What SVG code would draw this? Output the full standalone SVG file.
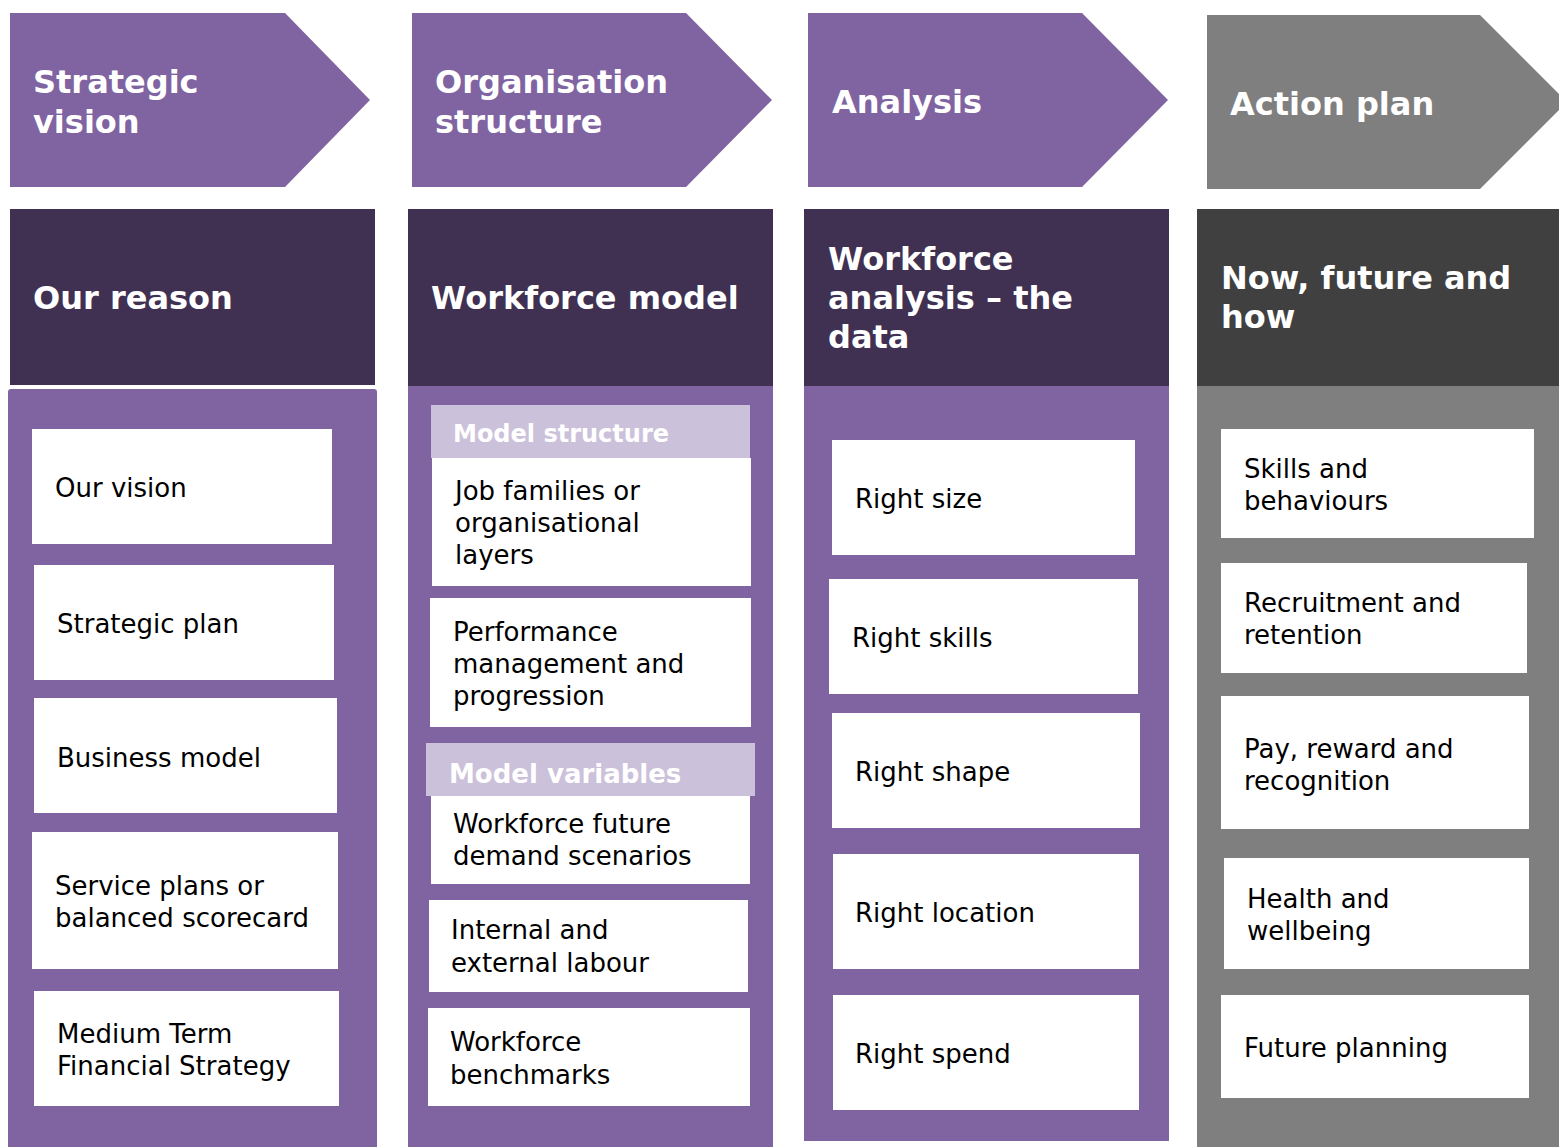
<svg xmlns="http://www.w3.org/2000/svg" width="1559" height="1147" viewBox="0 0 1559 1147">
<style>
text{font-family:"DejaVu Sans","Verdana",sans-serif;}
.h{font-size:32px;font-weight:bold;fill:#fff;}
.t{font-size:26px;fill:#000;}
.sub{font-weight:bold;fill:#fff;}
.pur{fill:#8064a2;}
.dk{fill:#403152;}
.gr{fill:#7f7f7f;}
.dg{fill:#404040;}
.wb{fill:#fff;}
.lv{fill:#ccc1da;}
</style>
<rect width="1559" height="1147" fill="#fff"/>

<g id="step-strategic-vision">
<polygon class="pur" points="10,13 285,13 370,100 285,187 10,187"/>
<text class="h" x="33" y="93">Strategic</text>
<text class="h" x="33" y="133">vision</text>
</g>
<g id="step-organisation-structure">
<polygon class="pur" points="412,13 686,13 772,100 686,187 412,187"/>
<text class="h" x="435" y="93">Organisation</text>
<text class="h" x="435" y="133">structure</text>
</g>
<g id="step-analysis">
<polygon class="pur" points="808,13 1082,13 1168,100 1082,187 808,187"/>
<text class="h" x="832" y="113">Analysis</text>
</g>
<g id="step-action-plan">
<polygon class="gr" points="1207,15 1480,15 1567,102 1480,189 1207,189"/>
<text class="h" x="1230" y="115">Action plan</text>
</g>

<g id="col1-header">
<rect class="dk" x="10" y="209" width="365" height="176"/>
<text class="h" x="33" y="309">Our reason</text>
</g>
<g id="col2-header">
<rect class="dk" x="408" y="209" width="365" height="177"/>
<text class="h" x="431" y="309">Workforce model</text>
</g>
<g id="col3-header">
<rect class="dk" x="804" y="209" width="365" height="177"/>
<text class="h" x="828" y="270">Workforce</text>
<text class="h" x="828" y="309">analysis – the</text>
<text class="h" x="828" y="348">data</text>
</g>
<g id="col4-header">
<rect class="dg" x="1197" y="209" width="362" height="177"/>
<text class="h" x="1221" y="289">Now, future and</text>
<text class="h" x="1221" y="328">how</text>
</g>

<g id="col1-body"><rect class="pur" x="8" y="389" width="369" height="770" rx="3"/></g>
<g id="col2-body"><rect class="pur" x="408" y="386" width="365" height="761"/></g>
<g id="col3-body"><rect class="pur" x="804" y="386" width="365" height="755"/></g>
<g id="col4-body"><rect class="gr" x="1197" y="386" width="362" height="761"/></g>

<g id="our-vision"><rect class="wb" x="32" y="429" width="300" height="115"/><text class="t" x="55" y="497">Our vision</text></g>
<g id="strategic-plan"><rect class="wb" x="34" y="565" width="300" height="115"/><text class="t" x="57" y="633">Strategic plan</text></g>
<g id="business-model"><rect class="wb" x="34" y="698" width="303" height="115"/><text class="t" x="57" y="767">Business model</text></g>
<g id="service-plans"><rect class="wb" x="32" y="832" width="306" height="137"/><text class="t" x="55" y="895">Service plans or</text><text class="t" x="55" y="927">balanced scorecard</text></g>
<g id="mtfs"><rect class="wb" x="34" y="991" width="305" height="115"/><text class="t" x="57" y="1043">Medium Term</text><text class="t" x="57" y="1075">Financial Strategy</text></g>

<g id="model-structure"><rect class="lv" x="431" y="405" width="319" height="53"/><text class="sub" font-size="24" x="453" y="442">Model structure</text></g>
<g id="job-families"><rect class="wb" x="432" y="458" width="319" height="128"/><text class="t" x="455" y="500">Job families or</text><text class="t" x="455" y="532">organisational</text><text class="t" x="455" y="564">layers</text></g>
<g id="performance"><rect class="wb" x="430" y="598" width="321" height="129"/><text class="t" x="453" y="641">Performance</text><text class="t" x="453" y="673">management and</text><text class="t" x="453" y="705">progression</text></g>
<g id="model-variables"><rect class="lv" x="426" y="743" width="329" height="53"/><text class="sub" font-size="26" x="449" y="783">Model variables</text></g>
<g id="future-demand"><rect class="wb" x="431" y="796" width="319" height="88"/><text class="t" x="453" y="833">Workforce future</text><text class="t" x="453" y="865">demand scenarios</text></g>
<g id="labour"><rect class="wb" x="429" y="900" width="319" height="92"/><text class="t" x="451" y="939">Internal and</text><text class="t" x="451" y="972">external labour</text></g>
<g id="benchmarks"><rect class="wb" x="428" y="1008" width="322" height="98"/><text class="t" x="450" y="1051">Workforce</text><text class="t" x="450" y="1084">benchmarks</text></g>

<g id="right-size"><rect class="wb" x="832" y="440" width="303" height="115"/><text class="t" x="855" y="508">Right size</text></g>
<g id="right-skills"><rect class="wb" x="829" y="579" width="309" height="115"/><text class="t" x="852" y="647">Right skills</text></g>
<g id="right-shape"><rect class="wb" x="832" y="713" width="308" height="115"/><text class="t" x="855" y="781">Right shape</text></g>
<g id="right-location"><rect class="wb" x="833" y="854" width="306" height="115"/><text class="t" x="855" y="922">Right location</text></g>
<g id="right-spend"><rect class="wb" x="833" y="995" width="306" height="115"/><text class="t" x="855" y="1063">Right spend</text></g>

<g id="skills-behaviours"><rect class="wb" x="1221" y="429" width="313" height="109"/><text class="t" x="1244" y="478">Skills and</text><text class="t" x="1244" y="510">behaviours</text></g>
<g id="recruitment"><rect class="wb" x="1221" y="563" width="306" height="110"/><text class="t" x="1244" y="612">Recruitment and</text><text class="t" x="1244" y="644">retention</text></g>
<g id="pay-reward"><rect class="wb" x="1221" y="696" width="308" height="133"/><text class="t" x="1244" y="758">Pay, reward and</text><text class="t" x="1244" y="790">recognition</text></g>
<g id="health"><rect class="wb" x="1224" y="858" width="305" height="111"/><text class="t" x="1247" y="908">Health and</text><text class="t" x="1247" y="940">wellbeing</text></g>
<g id="future-planning"><rect class="wb" x="1221" y="995" width="308" height="103"/><text class="t" x="1244" y="1057">Future planning</text></g>
</svg>
